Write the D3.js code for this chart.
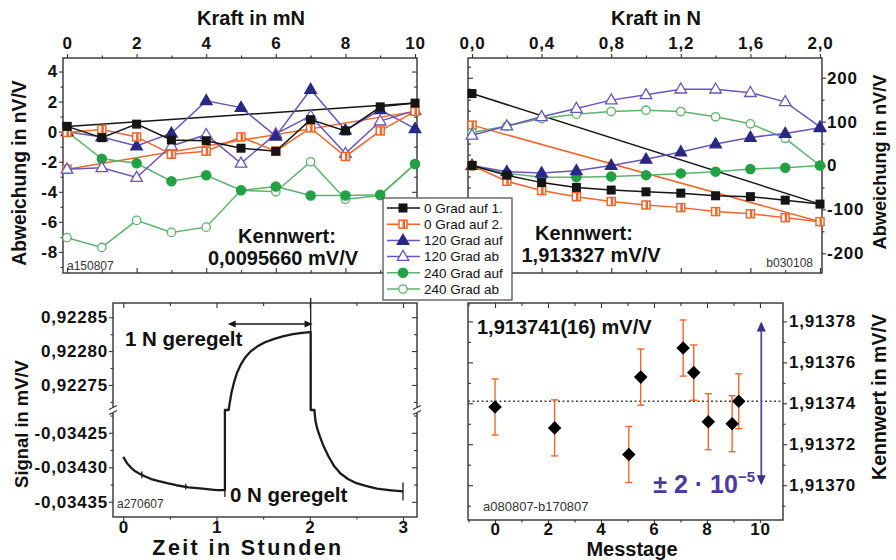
<!DOCTYPE html>
<html>
<head>
<meta charset="utf-8">
<script src="https://cdn.jsdelivr.net/npm/d3@7"></script>
<style>
  body { margin: 0; background: #fff; }
  text { font-family: "Liberation Sans", Arial, Helvetica, sans-serif; }
</style>
</head>
<body>
<svg id="chart" width="896" height="560"></svg>
<script>
// ---------- data ----------
var legendLabels = ["0 Grad auf 1.", "0 Grad auf 2.", "120 Grad auf", "120 Grad ab", "240 Grad auf", "240 Grad ab"];

// top left: Kraft in mN
var kraftMN = [0, 1, 2, 3, 4, 5, 6, 7, 8, 9, 10];
var tlAuf1 = [0.35, -0.4, 0.5, -0.55, -0.6, -1.1, -1.3, 0.8, 0.05, 1.65, 1.9];
var tlAuf2 = [-0.05, 0.15, -0.35, -1.5, -1.3, -0.35, -1.3, 0.25, -1.65, 0.05, 1.35];
var tl120auf = [0, -0.35, -0.95, -0.1, 2.05, 1.6, -0.3, 2.8, 0.1, 1.45, 0.2];
var tl120ab = [-2.5, -2.4, -3.05, -0.95, -0.2, -2.1, -0.15, 1.05, -1.45, 0.7, 1.4];
var tl240auf = [0, -1.8, -2.1, -3.3, -2.9, -3.9, -3.65, -4.25, -4.25, -4.2, -2.15];
var tl240ab = [-7.05, -7.7, -5.9, -6.7, -6.35, -3.9, -4.0, -2.0, -4.5, -4.25, -2.15];
var tlFit1 = [[0, 0.35], [10, 1.9]];
var tlFit2 = [[0, -2.5], [10, 1.35]];

// top right: Kraft in N
var kraftN = [0, 0.2, 0.4, 0.6, 0.8, 1.0, 1.2, 1.4, 1.6, 1.8, 2.0];
var trAuf1 = [0, -22, -39, -50, -56, -60, -63, -69, -71, -79, -88];
var trAuf2 = [0, -36, -57, -71, -82, -90, -96, -105, -110, -119, -128];
var tr120auf = [0, -14, -17, -12, 0, 14, 31, 49, 64, 73, 86];
var tr120ab = [69, 90, 111, 130, 149, 161, 174, 174, 166, 145, 88];
var tr240auf = [0, -18, -27, -27, -25, -22, -18, -14, -8, -5, 0];
var tr240ab = [75, 90, 107, 117, 123, 126, 123, 111, 95, 62, 0];
var trFit1 = [[0, 164], [2, -88]];
var trFit2 = [[0, 92], [2, -128]];

// bottom left: Signal over time [Stunden, mV/V]
var sigLow1 = [[0, -0.034285], [0.04, -0.034294], [0.08, -0.034300], [0.12, -0.034305], [0.17, -0.034309],
  [0.23, -0.034313], [0.30, -0.034317], [0.38, -0.034320], [0.47, -0.034323], [0.57, -0.034326],
  [0.70, -0.034329], [0.85, -0.034331], [1.00, -0.034333], [1.09, -0.034333]];
var sigHigh = [[1.14, 0.922722], [1.16, 0.922738], [1.19, 0.922755], [1.22, 0.922768], [1.26, 0.922780],
  [1.31, 0.922791], [1.37, 0.922800], [1.44, 0.922807], [1.52, 0.922813], [1.62, 0.922818],
  [1.72, 0.922822], [1.82, 0.922825], [1.92, 0.922827], [2.00, 0.922828]];
var sigLow2 = [[2.06, -0.034232], [2.08, -0.034244], [2.11, -0.034256], [2.15, -0.034270], [2.20, -0.034284],
  [2.26, -0.034298], [2.33, -0.034309], [2.41, -0.034317], [2.50, -0.034323], [2.60, -0.034327],
  [2.72, -0.034331], [2.85, -0.034333], [3.00, -0.034335]];
var sprungAuf = [1.09, 1.13], sprungAb = [2.01, 2.05];
var sigMarks = [[0.2, -0.034311, 0.000005], [0.67, -0.034328, 0.000004], [1.09, -0.034333, 0.00001], [3.0, -0.034335, 0.000013]];
var geregeltPfeil = [1.12, 2.03, 0.922840];

// bottom right: Kennwert per Messtag
var messtag = [0, 2.25, 5.05, 5.5, 7.1, 7.5, 8.05, 8.95, 9.2];
var kennwert = [1.9137382, 1.913728, 1.913715, 1.9137528, 1.913767, 1.913755, 1.913731, 1.91373, 1.913741];
var fehler = [0.0000137, 0.0000137, 0.0000137, 0.0000137, 0.0000137, 0.0000135, 0.0000137, 0.0000137, 0.0000134];
var mittelwert = 1.913741;
var streuPfeil = [10.05, 1.91370, 1.91378];

// ticks
var tlXTicks = [0, 2, 4, 6, 8, 10], tlYTicks = [-8, -6, -4, -2, 0, 2, 4];
var trXTicks = [0, 0.4, 0.8, 1.2, 1.6, 2.0], trYTicks = [-200, -100, 0, 100, 200];
var blXTicks = [0, 1, 2, 3], blYLow = [-0.03435, -0.0343, -0.03425], blYHigh = [0.92275, 0.9228, 0.92285];
var brXTicks = [0, 2, 4, 6, 8, 10], brYTicks = [1.9137, 1.91372, 1.91374, 1.91376, 1.91378];

// ---------- helpers ----------
var svg = d3.select("#chart");
var loc = d3.formatLocale({decimal: ",", thousands: ".", grouping: [3], currency: ["", ""], minus: "-"});
var BLACK = "#151515", ORANGE = "#f0662c", PURPLE = "#6a55b8", NAVY = "#2a2884", GREEN = "#5cb36c", GREENF = "#22a045";

var styles = [
  {line: BLACK, marker: "sq"},
  {line: ORANGE, marker: "half"},
  {line: PURPLE, marker: "triF"},
  {line: PURPLE, marker: "triO"},
  {line: GREEN, marker: "cirF"},
  {line: GREEN, marker: "cirO"}
];

function marker(g, type, x, y) {
  if (type === "sq") {
    g.append("rect").attr("x", x - 4.5).attr("y", y - 4.5).attr("width", 9).attr("height", 9).attr("fill", BLACK);
  } else if (type === "half") {
    g.append("rect").attr("x", x - 4).attr("y", y - 4).attr("width", 8).attr("height", 8)
      .attr("fill", "#fff").attr("stroke", ORANGE).attr("stroke-width", 1.5);
    g.append("rect").attr("x", x - 0.5).attr("y", y - 4).attr("width", 2.5).attr("height", 8).attr("fill", ORANGE);
  } else if (type === "triF" || type === "triO") {
    g.append("path").attr("d", d3.symbol(d3.symbolTriangle, 58)())
      .attr("transform", "translate(" + x + "," + (y + 0.5) + ")")
      .attr("fill", type === "triF" ? NAVY : "#fff").attr("stroke", type === "triF" ? NAVY : PURPLE).attr("stroke-width", 1.3);
  } else {
    g.append("circle").attr("cx", x).attr("cy", y).attr("r", type === "cirF" ? 4.6 : 4.2)
      .attr("fill", type === "cirF" ? GREENF : "#fff").attr("stroke", type === "cirF" ? GREENF : GREEN).attr("stroke-width", 1.3);
  }
}

function axis(make, scale, tx, ty, major, minor, fmt, out, pad, size) {
  var s = out ? 1 : -1;
  var g = svg.append("g").attr("transform", "translate(" + tx + "," + ty + ")");
  g.append("g").call(make(scale).tickValues(minor).tickSize((out ? 2.5 : 3) * s).tickFormat(function () { return ""; }));
  g.append("g").call(make(scale).tickValues(major).tickSize((size || (out ? 4 : 5)) * s).tickPadding(pad === undefined ? 2 : pad)
    .tickFormat(fmt || function () { return ""; }));
  g.selectAll(".domain").remove();
  g.selectAll("line").attr("stroke", "#333").attr("stroke-width", 1.1);
  g.selectAll("text").attr("font-size", 17).attr("font-weight", "bold").attr("letter-spacing", 0.8)
    .attr("fill", "#111").attr("font-family", '"Liberation Sans", Arial, sans-serif');
  return g;
}

function frame(x0, y0, x1, y1) {
  svg.append("rect").attr("x", x0).attr("y", y0).attr("width", x1 - x0).attr("height", y1 - y0)
    .attr("fill", "none").attr("stroke", "#333").attr("stroke-width", 1.4);
}

function label(txt, x, y, size, opts) {
  opts = opts || {};
  var t = svg.append("text").attr("x", x).attr("y", y).attr("font-size", size)
    .attr("font-weight", opts.weight || "bold").attr("fill", opts.fill || "#111")
    .attr("text-anchor", opts.anchor || "middle").text(txt);
  if (opts.rotate) t.attr("transform", "rotate(-90," + x + "," + y + ")");
  if (opts.ls) t.attr("letter-spacing", opts.ls);
  return t;
}

function drawSeries(g, xs, ys, xScale, yScale, st) {
  var pts = xs.map(function (d, i) { return [d, ys[i]]; });
  g.append("path").attr("d", d3.line().x(function (d) { return xScale(d[0]); }).y(function (d) { return yScale(d[1]); })(pts))
    .attr("fill", "none").attr("stroke", st.line).attr("stroke-width", 1.5);
  pts.forEach(function (p) { marker(g, st.marker, xScale(p[0]), yScale(p[1])); });
}

function drawFit(g, fit, xScale, yScale, st) {
  g.append("line").attr("x1", xScale(fit[0][0])).attr("y1", yScale(fit[0][1]))
    .attr("x2", xScale(fit[1][0])).attr("y2", yScale(fit[1][1]))
    .attr("stroke", st.line).attr("stroke-width", 1.5);
  marker(g, st.marker, xScale(fit[0][0]), yScale(fit[0][1]));
}

// ---------- top left ----------
var xTL = d3.scaleLinear().domain([-0.115, 10.057]).range([63, 417]);
var yTL = d3.scaleLinear().domain([-9.4, 4.9]).range([273, 58]);
axis(d3.axisTop, xTL, 0, 58, tlXTicks, [1, 3, 5, 7, 9], loc.format("d"), true, 5);
axis(d3.axisBottom, xTL, 0, 273, tlXTicks, [1, 3, 5, 7, 9], null, false);
axis(d3.axisLeft, yTL, 63, 0, tlYTicks, [-9, -7, -5, -3, -1, 1, 3], loc.format("d"), true, 1);
axis(d3.axisRight, yTL, 417, 0, tlYTicks, [-9, -7, -5, -3, -1, 1, 3], null, false);
frame(63, 58, 417, 273);
var gTL = svg.append("g");
var tlSeries = [tlAuf1, tlAuf2, tl120auf, tl120ab, tl240auf, tl240ab];
drawFit(gTL, tlFit1, xTL, yTL, styles[0]);
drawFit(gTL, tlFit2, xTL, yTL, styles[1]);
[5, 4, 3, 2, 1, 0].forEach(function (i) { drawSeries(gTL, kraftMN, tlSeries[i], xTL, yTL, styles[i]); });
label("Kraft in mN", 251, 25, 20);
label("Abweichung in nV/V", 26, 173, 19.3, {rotate: true});
label("Kennwert:", 287, 243, 20);
label("0,0095660 mV/V", 283, 265, 20);
label("a150807", 67, 270, 12, {anchor: "start", weight: "normal", fill: "#333"});

// ---------- top right ----------
var xTR = d3.scaleLinear().domain([-0.023, 2.0115]).range([468, 822]);
var yTR = d3.scaleLinear().domain([-245, 245]).range([273, 58]);
axis(d3.axisTop, xTR, 0, 58, trXTicks, [0.2, 0.6, 1.0, 1.4, 1.8], loc.format(".1f"), true, 5);
axis(d3.axisBottom, xTR, 0, 273, trXTicks, [0.2, 0.6, 1.0, 1.4, 1.8], null, false);
axis(d3.axisLeft, yTR, 468, 0, trYTicks, [-225, -175, -150, -125, -75, -50, -25, 25, 50, 75, 125, 150, 175, 225], null, false);
axis(d3.axisRight, yTR, 822, 0, trYTicks, [-150, -50, 50, 150], loc.format("d"), true, 1);
frame(468, 58, 822, 273);
var gTR = svg.append("g");
var trSeries = [trAuf1, trAuf2, tr120auf, tr120ab, tr240auf, tr240ab];
drawFit(gTR, trFit1, xTR, yTR, styles[0]);
drawFit(gTR, trFit2, xTR, yTR, styles[1]);
[5, 4, 3, 2, 1, 0].forEach(function (i) { drawSeries(gTR, kraftN, trSeries[i], xTR, yTR, styles[i]); });
label("Kraft in N", 656, 25, 20);
label("Abweichung in nV/V", 886, 162, 18.2, {rotate: true});
label("Kennwert:", 584, 240, 20);
label("1,913327 mV/V", 591, 262, 20);
label("b030108", 813, 267, 12, {anchor: "end", weight: "normal", fill: "#333"});

// ---------- bottom left ----------
var xBL = d3.scaleLinear().domain([-0.11, 3.15]).range([113, 417]);
var yLo = d3.scaleLinear().domain([-0.034372, -0.034217]).range([517, 410]);
var yHi = d3.scaleLinear().domain([0.922713, 0.922871]).range([410, 303]);
var fmt5 = loc.format(".5f");
axis(d3.axisBottom, xBL, 0, 517, blXTicks, [0.5, 1.5, 2.5], loc.format("d"), true, 0);
axis(d3.axisTop, xBL, 0, 303, blXTicks, [0.5, 1.5, 2.5], null, false);
axis(d3.axisLeft, yLo, 113, 0, blYLow, [-0.034325, -0.034275, -0.034225], fmt5, true, 1);
axis(d3.axisLeft, yHi, 113, 0, blYHigh, [0.922725, 0.922775, 0.922825], fmt5, true, 1);
axis(d3.axisRight, yLo, 417, 0, blYLow, [-0.034325, -0.034275, -0.034225], null, false);
axis(d3.axisRight, yHi, 417, 0, blYHigh, [0.922725, 0.922775, 0.922825], null, false);
frame(113, 303, 417, 517);
// axis break marks
[113, 417].forEach(function (bx) {
  svg.append("rect").attr("x", bx - 3).attr("y", yLo.range()[1] - 3).attr("width", 6).attr("height", 6).attr("fill", "#fff");
  [-2.5, 2.5].forEach(function (o) {
    svg.append("line").attr("x1", bx - 4).attr("y1", yLo.range()[1] + o + 2).attr("x2", bx + 4).attr("y2", yLo.range()[1] + o - 2)
      .attr("stroke", "#333").attr("stroke-width", 1.1);
  });
});
var blPts = [].concat(
  sigLow1.map(function (d) { return [d[0], d[1], "lo"]; }),
  [[sprungAuf[0], yLo.domain()[1], "lo"], [sprungAuf[1], yHi.domain()[0], "hi"]],
  sigHigh.map(function (d) { return [d[0], d[1], "hi"]; }),
  [[sprungAb[0], sigHigh[sigHigh.length - 1][1], "hi"], [sprungAb[0], yHi.domain()[0], "hi"], [sprungAb[1], yLo.domain()[1], "lo"]],
  sigLow2.map(function (d) { return [d[0], d[1], "lo"]; })
);
svg.append("path")
  .attr("d", d3.line().x(function (d) { return xBL(d[0]); })
    .y(function (d) { return d[2] === "hi" ? yHi(d[1]) : yLo(d[1]); })(blPts))
  .attr("fill", "none").attr("stroke", "#1a1a1a").attr("stroke-width", 2.3).attr("stroke-linejoin", "round");
// line marking the switch point (reaches above the frame)
svg.append("line").attr("x1", xBL(sprungAb[0])).attr("x2", xBL(sprungAb[0]))
  .attr("y1", yHi.range()[1] - 5).attr("y2", yHi(sigHigh[sigHigh.length - 1][1]))
  .attr("stroke", "#1a1a1a").attr("stroke-width", 1.3);
sigMarks.forEach(function (m) {
  svg.append("line").attr("x1", xBL(m[0])).attr("x2", xBL(m[0]))
    .attr("y1", yLo(m[1] - m[2])).attr("y2", yLo(m[1] + m[2])).attr("stroke", "#1a1a1a").attr("stroke-width", 1.3);
});
// double arrow
var ay = yHi(geregeltPfeil[2]), ax0 = xBL(geregeltPfeil[0]), ax1 = xBL(geregeltPfeil[1]);
svg.append("line").attr("x1", ax0 + 4).attr("x2", ax1 - 4).attr("y1", ay).attr("y2", ay).attr("stroke", "#1a1a1a").attr("stroke-width", 1.4);
svg.append("path").attr("d", "M" + ax0 + "," + ay + "l8,-3.5v7z").attr("fill", "#1a1a1a");
svg.append("path").attr("d", "M" + ax1 + "," + ay + "l-8,-3.5v7z").attr("fill", "#1a1a1a");
label("1 N geregelt", 125, 346, 20.5, {anchor: "start"});
label("0 N geregelt", 230, 502, 20.5, {anchor: "start"});
label("a270607", 117, 508, 12, {anchor: "start", weight: "normal", fill: "#333"});
label("Zeit in Stunden", 248, 555, 21.5, {ls: 2.4});
label("Signal in mV/V", 28, 424, 18.4, {rotate: true});

// ---------- bottom right ----------
var xBR = d3.scaleLinear().domain([-1.02, 10.87]).range([468, 783]);
var yBR = d3.scaleLinear().domain([1.913683, 1.913789]).range([520, 303]);
axis(d3.axisBottom, xBR, 0, 520, brXTicks, [-1, 1, 3, 5, 7, 9], loc.format("d"), true, 0, 3);
axis(d3.axisTop, xBR, 0, 303, brXTicks, [-1, 1, 3, 5, 7, 9], null, false);
axis(d3.axisLeft, yBR, 468, 0, brYTicks, [1.91369, 1.91371, 1.91373, 1.91375, 1.91377], null, false);
axis(d3.axisRight, yBR, 783, 0, brYTicks, [1.91369, 1.91371, 1.91373, 1.91375, 1.91377], fmt5, true, 2);
frame(468, 303, 783, 520);
svg.append("line").attr("x1", 468).attr("x2", 783).attr("y1", yBR(mittelwert)).attr("y2", yBR(mittelwert))
  .attr("stroke", "#444").attr("stroke-width", 1.3).attr("stroke-dasharray", "2,2.5");
var gBR = svg.append("g");
messtag.forEach(function (m, i) {
  var x = xBR(m), y0 = yBR(kennwert[i] - fehler[i]), y1 = yBR(kennwert[i] + fehler[i]);
  gBR.append("line").attr("x1", x).attr("x2", x).attr("y1", y0).attr("y2", y1).attr("stroke", ORANGE).attr("stroke-width", 1.4);
  [y0, y1].forEach(function (yy) {
    gBR.append("line").attr("x1", x - 3.5).attr("x2", x + 3.5).attr("y1", yy).attr("y2", yy).attr("stroke", ORANGE).attr("stroke-width", 1.4);
  });
});
messtag.forEach(function (m, i) {
  gBR.append("path").attr("d", d3.symbol(d3.symbolSquare, 92)())
    .attr("transform", "translate(" + xBR(m) + "," + yBR(kennwert[i]) + ") rotate(45)").attr("fill", "#000");
});
// spread arrow
var sx = xBR(streuPfeil[0]), sy0 = yBR(streuPfeil[1]), sy1 = yBR(streuPfeil[2]);
svg.append("line").attr("x1", sx).attr("x2", sx).attr("y1", sy1 + 8).attr("y2", sy0 - 8).attr("stroke", "#5a48a8").attr("stroke-width", 1.8);
svg.append("path").attr("d", "M" + sx + "," + sy1 + "l-4.5,10h9z").attr("fill", "#3b2f8c");
svg.append("path").attr("d", "M" + sx + "," + sy0 + "l-4.5,-10h9z").attr("fill", "#3b2f8c");
var pm = svg.append("text").attr("x", 755).attr("y", 493).attr("text-anchor", "end")
  .attr("font-size", 25).attr("font-weight", "bold").attr("fill", "#4b3aa0");
pm.append("tspan").text("± 2 · 10");
pm.append("tspan").attr("font-size", 15).attr("dy", -11).text("−5");
label("1,913741(16) mV/V", 477, 334, 20, {anchor: "start"});
label("a080807-b170807", 483, 511, 13, {anchor: "start", weight: "normal", fill: "#333"});
label("Messtage", 632, 556, 20);
label("Kennwert in mV/V", 886, 397, 19.5, {rotate: true});

// ---------- legend (drawn over both top panels) ----------
var leg = svg.append("g");
leg.append("rect").attr("x", 383).attr("y", 198).attr("width", 129).attr("height", 102)
  .attr("fill", "#fff").attr("stroke", "#555").attr("stroke-width", 1.3);
legendLabels.forEach(function (name, i) {
  var y = 208 + i * 16.2;
  leg.append("line").attr("x1", 387).attr("x2", 420).attr("y1", y).attr("y2", y).attr("stroke", styles[i].line).attr("stroke-width", 1.5);
  marker(leg, styles[i].marker, 403, y);
  leg.append("text").attr("x", 424).attr("y", y + 4.8).attr("font-size", 13.5).attr("fill", "#111").text(name);
});
</script>
</body>
</html>
